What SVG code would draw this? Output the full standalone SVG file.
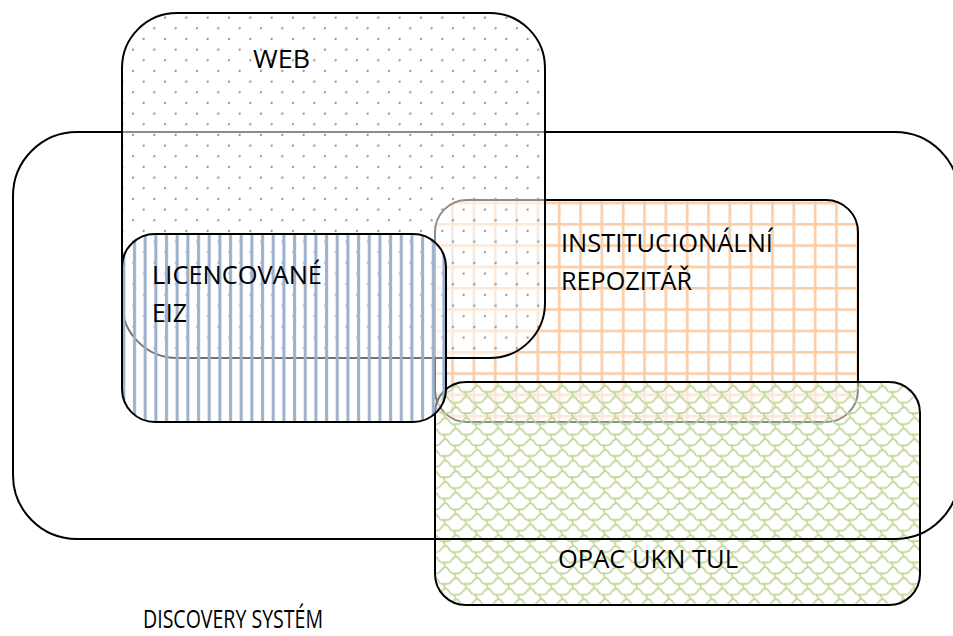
<svg xmlns="http://www.w3.org/2000/svg" width="953" height="636" viewBox="0 0 953 636">
<defs>
<style>
.box{stroke:#000;stroke-width:2}
.lbl{font-family:"Open Sans","Liberation Sans",sans-serif;font-size:26px;fill:#000}
</style>
<pattern id="pDots" patternUnits="userSpaceOnUse" x="3" y="5" width="21.33" height="21.33">
<rect width="21.33" height="21.33" fill="#fff" fill-opacity="0.55"/>
<circle cx="2" cy="2" r="1.2" fill="#9a9a9a"/>
<circle cx="12.67" cy="12.67" r="1.2" fill="#9a9a9a"/>
</pattern>
<pattern id="pStripes" patternUnits="userSpaceOnUse" x="2" y="0" width="10.67" height="10.67">
<rect width="10.67" height="10.67" fill="#fff" fill-opacity="0.45"/>
<rect x="3" y="0" width="3" height="10.67" fill="#9bb0cf"/>
</pattern>
<pattern id="pGrid" patternUnits="userSpaceOnUse" x="3.3" y="9.7" width="21.33" height="21.33">
<rect width="21.33" height="21.33" fill="#fff" fill-opacity="0.5"/>
<rect x="0" y="0" width="2.6" height="21.33" fill="#f9cda8"/>
<rect x="0" y="0" width="21.33" height="2.6" fill="#f9cda8"/>
</pattern>
<pattern id="pWave" patternUnits="userSpaceOnUse" x="0" y="0" width="21.33" height="21.33">
<rect width="21.33" height="21.33" fill="#fff" fill-opacity="0.55"/>
<path d="M0,8 C4,8 4,2 8,2 C12,2 11,7 15,8 L21.33,8 M-10.67,18.67 C-6.67,18.67 -6.67,12.67 -2.67,12.67 C1.33,12.67 0.33,17.67 4.33,18.67 L10.67,18.67 C14.67,18.67 14.67,12.67 18.67,12.67 C22.67,12.67 21.67,17.67 25.67,18.67 M8,2 L6,-2 M18.67,12.67 L17,8 M-2.67,12.67 L-4,8 M8,23.33 L6,19" fill="none" stroke="#bfd598" stroke-width="1.7"/>
</pattern>
</defs>
<rect width="953" height="636" fill="#fff"/>
<g id="repozitar">
<rect class="box" x="435" y="200" width="423" height="222" rx="32" ry="32" fill="url(#pGrid)"/>
<text class="lbl" x="561" y="252" textLength="212" lengthAdjust="spacingAndGlyphs">INSTITUCIONÁLNÍ</text>
<text class="lbl" x="561" y="290" textLength="131" lengthAdjust="spacingAndGlyphs">REPOZITÁŘ</text>
</g>
<g id="opac">
<rect class="box" x="435" y="382" width="485" height="223" rx="31" ry="31" fill="url(#pWave)"/>
<text class="lbl" x="558" y="568" textLength="180" lengthAdjust="spacingAndGlyphs">OPAC UKN TUL</text>
</g>
<g id="discovery">
<rect class="box" x="13" y="132" width="946" height="407" rx="64" ry="64" fill="none"/>
<text class="lbl" x="143" y="628" font-size="21" textLength="180" lengthAdjust="spacingAndGlyphs">DISCOVERY SYSTÉM</text>
</g>
<g id="web">
<rect class="box" x="122" y="13" width="423" height="345" rx="55" ry="55" fill="url(#pDots)"/>
<text class="lbl" x="253" y="68" textLength="57" lengthAdjust="spacingAndGlyphs">WEB</text>
</g>
<g id="licencovane">
<rect class="box" x="122" y="234" width="324" height="188" rx="33" ry="33" fill="url(#pStripes)"/>
<text class="lbl" x="152" y="284" textLength="170" lengthAdjust="spacingAndGlyphs">LICENCOVANÉ</text>
<text class="lbl" x="152" y="322" textLength="35" lengthAdjust="spacingAndGlyphs">EIZ</text>
</g>
<g id="connectors"/>
</svg>
